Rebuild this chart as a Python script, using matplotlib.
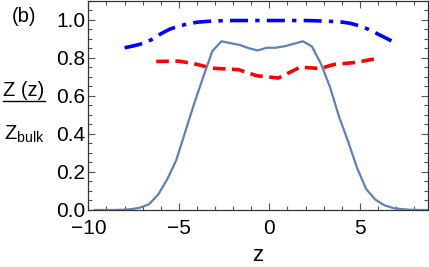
import matplotlib
matplotlib.use("Agg")
import matplotlib.pyplot as plt
from matplotlib.ticker import MultipleLocator

# solid curve: Z(z)/Z_bulk
z_solid = [-9.65, -9.15, -8.65, -8.15, -7.65, -7.15, -6.65, -6.15, -5.65, -5.15,
           -4.65, -4.15, -3.65, -3.15, -2.65, -2.15, -1.65, -1.15, -0.65, -0.15,
           0.35, 0.85, 1.35, 1.85, 2.35, 2.85, 3.35, 3.85, 4.35, 4.85,
           5.35, 5.85, 6.35, 6.85, 7.35, 7.85, 8.35, 8.85]
y_solid = [0.0, 0.0, 0.0, 0.001, 0.004, 0.012, 0.03, 0.08, 0.16, 0.26,
           0.41, 0.56, 0.70, 0.834, 0.886, 0.876, 0.867, 0.85, 0.838, 0.852,
           0.852, 0.86, 0.873, 0.886, 0.859, 0.768, 0.646, 0.49, 0.36, 0.22,
           0.11, 0.055, 0.025, 0.01, 0.004, 0.001, 0.0, 0.0]

# blue dash-dot curve
z_dashdot = [-8.0, -7.5, -7.0, -6.5, -6.0, -5.5, -5.0, -4.5, -4.0, -3.5, -3.0,
             -2.0, -1.0, 0.0, 1.0, 2.0, 2.5, 3.0, 3.5, 4.0, 4.5, 5.0, 5.5, 6.0, 6.5, 7.0]
y_dashdot = [0.852, 0.862, 0.874, 0.895, 0.925, 0.95, 0.965, 0.978, 0.986, 0.99, 0.993,
             0.995, 0.995, 0.995, 0.995, 0.995, 0.994, 0.992, 0.99, 0.987, 0.98, 0.966,
             0.948, 0.924, 0.9, 0.876]

# red dashed curve
z_dashed = [-6.25, -5.0, -4.0, -3.2, -1.7, -0.7, 0.5, 1.7, 2.8, 3.6, 4.8, 6.0]
y_dashed = [0.78, 0.782, 0.765, 0.745, 0.737, 0.705, 0.693, 0.75, 0.743, 0.765, 0.775, 0.797]

xticks = [-10, -5, 0, 5]
xtick_labels = ["\u221210", "\u22125", "0", "5"]
yticks = [0.0, 0.2, 0.4, 0.6, 0.8, 1.0]
ytick_labels = ["0.0", "0.2", "0.4", "0.6", "0.8", "1.0"]

plt.rcParams['font.family'] = ['Liberation Sans', 'DejaVu Sans']
plt.rcParams['mathtext.fontset'] = 'custom'
plt.rcParams['mathtext.rm'] = 'Liberation Sans'
plt.rcParams['mathtext.it'] = 'Liberation Sans'

fig = plt.figure(figsize=(4.29, 2.67), dpi=100)
ax = fig.add_axes([0.206, 0.2135, 0.791, 0.7845])

ax.plot(z_solid, y_solid, color='#5E81B5', lw=1.6, zorder=3)
ax.plot(z_dashdot, y_dashdot, color='#0000FF', lw=2.6, dashes=(5, 2, 1.2, 2), zorder=2)
ax.plot(z_dashed, y_dashed, color='#FF0000', lw=2.6, dashes=(3.5, 1.8), zorder=2)

ax.set_xlim(-10, 8.75)
ax.set_ylim(0, 1.1)
ax.set_xticks(xticks)
ax.set_xticklabels(xtick_labels)
ax.set_yticks(yticks)
ax.set_yticklabels(ytick_labels)
ax.xaxis.set_minor_locator(MultipleLocator(1))
ax.yaxis.set_minor_locator(MultipleLocator(0.05))
ax.tick_params(which='both', direction='in', top=True, right=True,
               color='#555555', width=0.8, labelsize=15)
ax.tick_params(axis='x', which='major', pad=6.5)
ax.tick_params(axis='y', which='major', pad=2)
ax.tick_params(which='major', length=5)
ax.tick_params(which='minor', length=3)
for s in ax.spines.values():
    s.set_color('#333333')
    s.set_linewidth(0.9)

ax.set_xlabel("z", fontsize=16, labelpad=5)

fig.text(0.057, 0.94, "(b)", fontsize=14.5, ha='center', va='center')
fig.text(0.056, 0.64, "Z (z)", fontsize=14.5, ha='center', va='baseline')
fig.add_artist(plt.Line2D([0.007, 0.105], [0.62, 0.62], color='black', lw=1.0))
fig.text(0.056, 0.476, r"Z$_{\mathrm{bulk}}$", fontsize=14.5, ha='center', va='baseline')

fig.savefig("out.png", dpi=100)
